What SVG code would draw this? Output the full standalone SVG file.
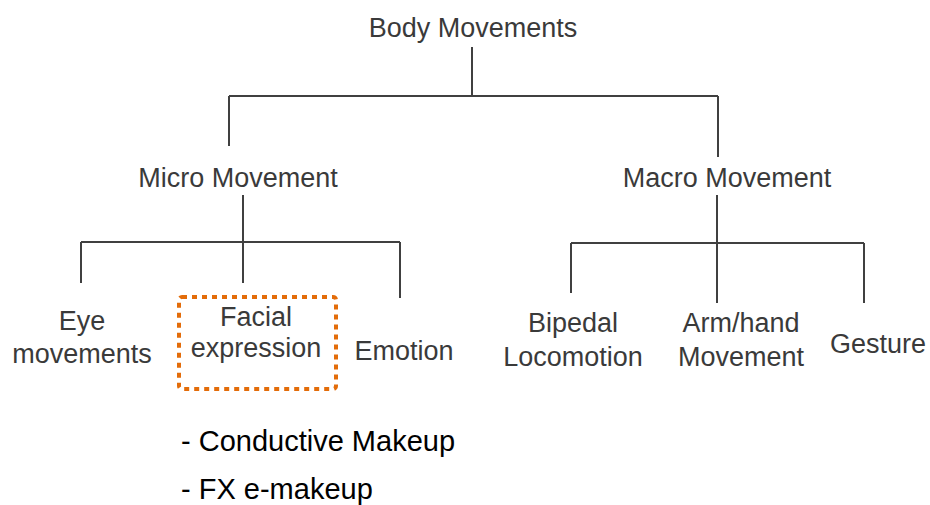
<svg xmlns="http://www.w3.org/2000/svg" width="930" height="505" viewBox="0 0 930 505">
<style>
.t{font-family:"Liberation Sans",Arial,sans-serif;font-size:27px;fill:#3a3a3a;text-anchor:middle}
.l{font-family:"Liberation Sans",Arial,sans-serif;font-size:29px;fill:#000}
.c{stroke:#404040;stroke-width:2;fill:none}
</style>
<rect width="930" height="505" fill="#fff"/>
<g id="connectors" class="c">
<path d="M472 47V96M229 96H718M229 96V146M718 96V157"/>
<path d="M243 195V283M81 242H400M81 242V283M400 242V298"/>
<path d="M717 195V303M571 243H864M571 243V293M864 243V303"/>
</g>
<g id="body"><text class="t" x="473" y="37">Body Movements</text></g>
<g id="micro"><text class="t" x="238" y="187">Micro Movement</text></g>
<g id="macro"><text class="t" x="727" y="187">Macro Movement</text></g>
<g id="eye"><text class="t" x="82" y="330">Eye</text><text class="t" x="82" y="363">movements</text></g>
<g id="facial">
<rect x="179" y="297" width="157" height="92" rx="3" fill="none" stroke="#E36C09" stroke-width="4" stroke-dasharray="5 5"/>
<text class="t" x="256" y="326">Facial</text><text class="t" x="256" y="357">expression</text></g>
<g id="emotion"><text class="t" x="404" y="360">Emotion</text></g>
<g id="bipedal"><text class="t" x="573" y="332">Bipedal</text><text class="t" x="573" y="366">Locomotion</text></g>
<g id="arm"><text class="t" x="741" y="332">Arm/hand</text><text class="t" x="741" y="366">Movement</text></g>
<g id="gesture"><text class="t" x="878" y="353">Gesture</text></g>
<g id="list">
<text class="l" x="181" y="451">- Conductive Makeup</text>
<text class="l" x="181" y="499">- FX e-makeup</text>
</g>
</svg>
